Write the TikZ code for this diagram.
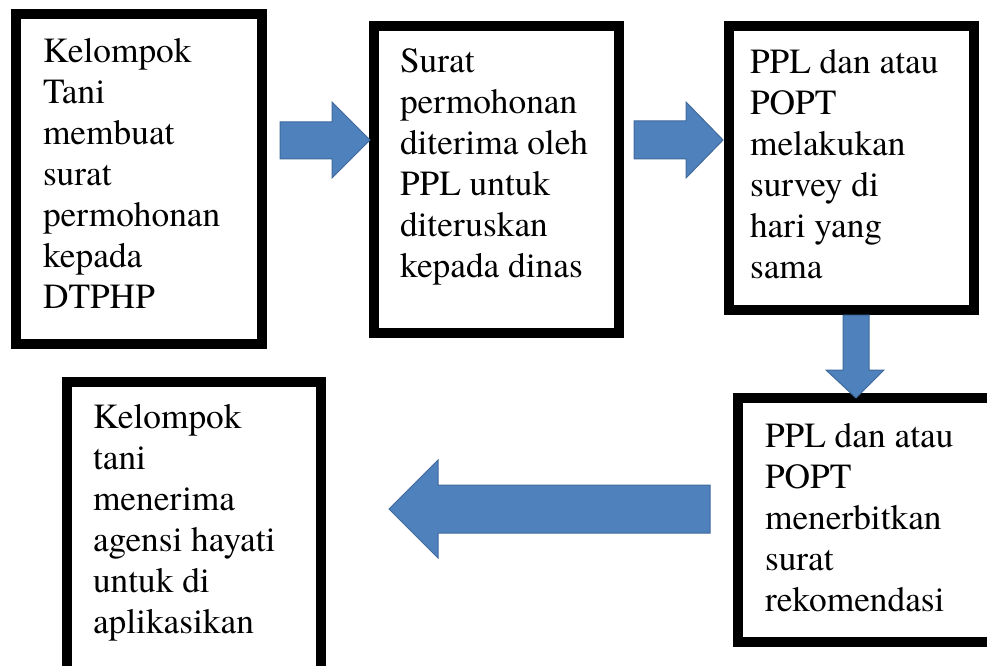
\documentclass[tikz,border=0pt]{standalone}
\usepackage{fontspec}
\setmainfont{texgyretermes}[Extension=.otf, UprightFont=*-regular, BoldFont=*-bold]
\definecolor{arrowblue}{HTML}{4F81BD}
\definecolor{arrowedge}{HTML}{3F6A9C}
\begin{document}
\begin{tikzpicture}[x=0.75pt,y=-0.75pt,
  box/.style={draw=black, line width=7.5pt, rectangle, inner sep=0pt, outer sep=0pt},
  lbl/.style={anchor=base west, inner sep=0pt, outer sep=0pt, font=\fontsize{26.5}{30.75}\selectfont},
  blockarrow/.style={fill=arrowblue, draw=arrowedge, line width=0.75pt, line join=miter}]
\useasboundingbox (0,0) rectangle (987,666);
\fill[white] (0,0) rectangle (987,666);
\clip (0,0) rectangle (987,666);

% boxes
\node[box, minimum width=184.5pt, minimum height=247.125pt] (b1) at (139,179.25) {};
\node[box, minimum width=183.375pt, minimum height=230.25pt] (b2) at (496.25,179.5) {};
\node[box, minimum width=184.125pt, minimum height=213pt] (b3) at (851.25,168) {};
\node[box, minimum width=192.75pt, minimum height=183pt] (b4) at (866.5,520) {};
\node[box, minimum width=190.125pt, minimum height=220.125pt] (b5) at (193.75,528.25) {};

% texts
\node[lbl] (t1) at (43,63) {\parbox[t]{170pt}{\raggedright Kelompok\\Tani\\membuat\\surat\\permohonan\\kepada\\DTPHP}};
\node[lbl] (t2) at (400,73) {\parbox[t]{170pt}{\raggedright Surat\\permohonan\\diterima oleh\\PPL untuk\\diteruskan\\kepada dinas}};
\node[lbl] (t3) at (750,74) {\parbox[t]{170pt}{\raggedright PPL dan atau\\POPT\\melakukan\\survey di\\hari yang\\sama}};
\node[lbl] (t4) at (765,447) {\parbox[t]{170pt}{\raggedright PPL dan atau\\POPT\\menerbitkan\\surat\\rekomendasi}};
\node[lbl] (t5) at (93,428) {\parbox[t]{170pt}{\raggedright Kelompok\\tani\\menerima\\agensi hayati\\untuk di\\aplikasikan}};

% block arrows
\draw[blockarrow] (280,122) -- (332,122) -- (332,102) -- (370,140) -- (332,178) -- (332,159) -- (280,159) -- cycle;
\draw[blockarrow] (634,121) -- (686,121) -- (686,102) -- (723,140) -- (686,178) -- (686,159) -- (634,159) -- cycle;
\draw[blockarrow] (843,315) -- (869,315) -- (869,370) -- (884,370) -- (856,398) -- (826,370) -- (843,370) -- cycle;
\draw[blockarrow] (710,485) -- (438,485) -- (438,460) -- (389,509) -- (438,558) -- (438,533) -- (710,533) -- cycle;
\end{tikzpicture}
\end{document}
